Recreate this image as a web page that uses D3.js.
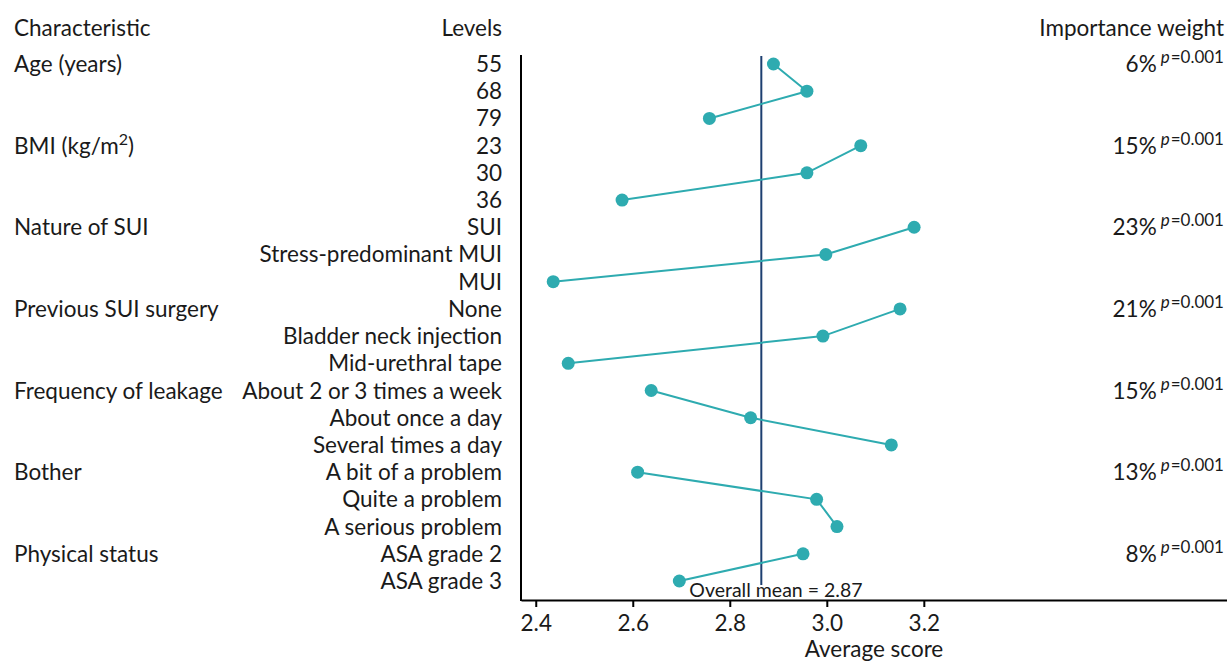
<!DOCTYPE html>
<html>
<head>
<meta charset="utf-8">
<script src="https://cdn.jsdelivr.net/npm/d3@7"></script>
<style>
  body { margin: 0; background: #fff; }
  text { font-family: Lato, "Open Sans", sans-serif; fill: #1a1a1a; }
</style>
</head>
<body>
<svg id="chart" width="1227" height="662"></svg>
<script>
// characteristics, their levels and the average score per level
const characteristics = ["Age (years)", "BMI (kg/m²)", "Nature of SUI", "Previous SUI surgery",
                         "Frequency of leakage", "Bother", "Physical status"];
const levels = [
    ["55", "68", "79"],
    ["23", "30", "36"],
    ["SUI", "Stress-predominant MUI", "MUI"],
    ["None", "Bladder neck injection", "Mid-urethral tape"],
    ["About 2 or 3 times a week", "About once a day", "Several times a day"],
    ["A bit of a problem", "Quite a problem", "A serious problem"],
    ["ASA grade 2", "ASA grade 3"]
];
const scores = [
    [2.890, 2.959, 2.758],
    [3.070, 2.959, 2.578],
    [3.180, 2.998, 2.436],
    [3.151, 2.992, 2.467],
    [2.638, 2.843, 3.133],
    [2.610, 2.979, 3.021],
    [2.951, 2.696]
];
const weights = ["6%", "15%", "23%", "21%", "15%", "13%", "8%"];
const pValues = ["0.001", "0.001", "0.001", "0.001", "0.001", "0.001", "0.001"];
const overallMean = 2.865;
const xTicks = [2.4, 2.6, 2.8, 3.0, 3.2];

const teal = "#2eabb0", navy = "#1d3f70";
const fs = 22.5;
const svg = d3.select("#chart");

// flatten into rows
const rows = [];
levels.forEach((lv, g) => lv.forEach((l, i) => rows.push({g, i, key: g + "_" + i, level: l, score: scores[g][i]})));

const x = d3.scaleLinear().domain([2.3696, 3.825]).range([521, 1227]);
const y = d3.scalePoint().domain(rows.map(d => d.key)).range([64, 581]);

// headers
svg.append("text").attr("x", 14).attr("y", 36).attr("font-size", fs).text("Characteristic");
svg.append("text").attr("x", 502).attr("y", 36).attr("font-size", fs).attr("text-anchor", "end").text("Levels");
svg.append("text").attr("x", 1224).attr("y", 36).attr("font-size", fs).attr("text-anchor", "end").text("Importance weight");

// characteristic names + weights
characteristics.forEach((c, g) => {
    const yy = y(g + "_0") + 8;
    const t = svg.append("text").attr("x", 14).attr("y", yy).attr("font-size", fs);
    if (c.includes("²")) {
        t.text("BMI (kg/m");
        t.append("tspan").attr("font-size", 16).attr("dy", -9).text("2");
        t.append("tspan").attr("dy", 9).text(")");
    } else t.text(c);
    const w = svg.append("text").attr("x", 1224).attr("y", yy).attr("font-size", fs).attr("text-anchor", "end");
    w.append("tspan").text(weights[g]);
    w.append("tspan").attr("font-size", 17).attr("dx", 4).attr("dy", -9).attr("font-style", "italic").text("p");
    w.append("tspan").attr("font-size", 17).attr("dx", 1).text("=" + pValues[g]);
});

// level labels
svg.append("g").selectAll("text").data(rows).join("text")
    .attr("x", 502).attr("y", d => y(d.key) + 8)
    .attr("font-size", fs).attr("text-anchor", "end")
    .text(d => d.level);

// axes
svg.append("line").attr("x1", 521).attr("x2", 521).attr("y1", 55).attr("y2", 601)
    .attr("stroke", "#000").attr("stroke-width", 2);
const xAxis = svg.append("g").attr("transform", "translate(0,600)")
    .call(d3.axisBottom(x).tickValues(xTicks).tickFormat(d3.format(".1f")).tickSize(7).tickSizeOuter(0));
xAxis.select(".domain").attr("stroke-width", 2);
xAxis.selectAll(".tick line").attr("stroke-width", 2);
xAxis.selectAll(".tick text").attr("font-size", fs).attr("dy", "0.92em")
    .style("font-family", "Lato, sans-serif").attr("fill", "#1a1a1a");
svg.append("text").attr("x", 874).attr("y", 657).attr("font-size", fs).attr("text-anchor", "middle").text("Average score");

// mean line
svg.append("line").attr("x1", x(overallMean)).attr("x2", x(overallMean)).attr("y1", 56).attr("y2", 585)
    .attr("stroke", navy).attr("stroke-width", 2);

// lines within each characteristic
const line = d3.line().x(d => x(d.score)).y(d => y(d.key));
svg.append("g").selectAll("path").data(d3.groups(rows, d => d.g).map(d => d[1])).join("path")
    .attr("d", line).attr("fill", "none").attr("stroke", teal).attr("stroke-width", 2);

svg.append("g").selectAll("circle").data(rows).join("circle")
    .attr("cx", d => x(d.score)).attr("cy", d => y(d.key)).attr("r", 6.5).attr("fill", teal);

svg.append("text").attr("x", x(overallMean) - 72).attr("y", 597).attr("font-size", 19.5)
    .text("Overall mean = " + overallMean.toFixed(2));
</script>
</body>
</html>
